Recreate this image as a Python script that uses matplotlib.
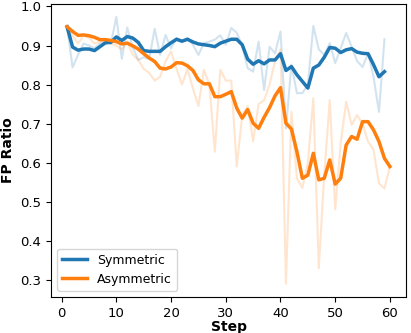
import numpy as np
import matplotlib
matplotlib.use("Agg")
import matplotlib.pyplot as plt

# raw per-step values (faint lines)
sym_raw = [0.947, 0.844, 0.876, 0.905, 0.900, 0.893, 0.905, 0.910, 0.905, 0.973,
           0.866, 0.946, 0.895, 0.863, 0.870, 0.865, 0.943, 0.876, 0.927, 0.893,
           0.919, 0.910, 0.919, 0.902, 0.876, 0.906, 0.910, 0.915, 0.926, 0.902,
           0.945, 0.933, 0.900, 0.842, 0.833, 0.910, 0.786, 0.897, 0.880, 0.936,
           0.688, 0.851, 0.778, 0.778, 0.800, 0.950, 0.890, 0.876, 0.906, 0.855,
           0.893, 0.932, 0.897, 0.860, 0.845, 0.880, 0.820, 0.730, 0.916]
asym_raw = [0.947, 0.925, 0.905, 0.925, 0.920, 0.905, 0.910, 0.915, 0.905, 0.900,
            0.890, 0.910, 0.876, 0.863, 0.840, 0.830, 0.810, 0.820, 0.860, 0.885,
            0.840, 0.800, 0.840, 0.790, 0.745, 0.838, 0.800, 0.628, 0.838, 0.810,
            0.810, 0.590, 0.720, 0.745, 0.655, 0.750, 0.760, 0.800, 0.860, 0.890,
            0.290, 0.730, 0.560, 0.535, 0.600, 0.765, 0.330, 0.570, 0.760, 0.480,
            0.650, 0.756, 0.697, 0.722, 0.700, 0.654, 0.633, 0.547, 0.534, 0.590]

# smoothed values (bold lines)
sym_smooth = [0.948, 0.896, 0.888, 0.891, 0.891, 0.887, 0.897, 0.907, 0.908, 0.922,
              0.913, 0.923, 0.919, 0.908, 0.887, 0.885, 0.885, 0.885, 0.897, 0.907,
              0.916, 0.911, 0.916, 0.909, 0.904, 0.902, 0.900, 0.897, 0.906, 0.911,
              0.916, 0.916, 0.902, 0.865, 0.852, 0.861, 0.853, 0.863, 0.863, 0.879,
              0.836, 0.846, 0.825, 0.808, 0.791, 0.842, 0.850, 0.870, 0.895, 0.893,
              0.882, 0.889, 0.892, 0.883, 0.880, 0.879, 0.851, 0.820, 0.833]
asym_smooth = [0.948, 0.936, 0.926, 0.927, 0.925, 0.921, 0.915, 0.915, 0.913, 0.910,
               0.904, 0.906, 0.899, 0.891, 0.879, 0.868, 0.859, 0.842, 0.840, 0.845,
               0.856, 0.855, 0.848, 0.836, 0.812, 0.802, 0.802, 0.769, 0.769, 0.775,
               0.782, 0.740, 0.714, 0.736, 0.701, 0.688, 0.716, 0.741, 0.771, 0.792,
               0.701, 0.686, 0.628, 0.560, 0.568, 0.624, 0.556, 0.560, 0.607, 0.545,
               0.560, 0.645, 0.667, 0.660, 0.705, 0.705, 0.684, 0.654, 0.611, 0.590]

sym_steps = np.arange(1, len(sym_raw) + 1)
asym_steps = np.arange(1, len(asym_raw) + 1)

fig, ax = plt.subplots(figsize=(4.11, 3.33), dpi=100)
fig.subplots_adjust(left=0.124, right=0.988, top=0.989, bottom=0.108)

ax.plot(sym_steps, sym_raw, color="tab:blue", alpha=0.2, lw=1.5)
ax.plot(asym_steps, asym_raw, color="tab:orange", alpha=0.2, lw=1.5)
ax.plot(sym_steps, sym_smooth, color="tab:blue", lw=2.5, label="Symmetric")
ax.plot(asym_steps, asym_smooth, color="tab:orange", lw=2.5, label="Asymmetric")

ax.set_xlabel("Step", fontsize=10, fontweight="bold", labelpad=0)
ax.set_ylabel("FP Ratio", fontsize=10, fontweight="bold", labelpad=4)
ax.tick_params(labelsize=9.5)
ax.legend(loc="lower left", fontsize=9)

fig.savefig("out.png", dpi=100)
